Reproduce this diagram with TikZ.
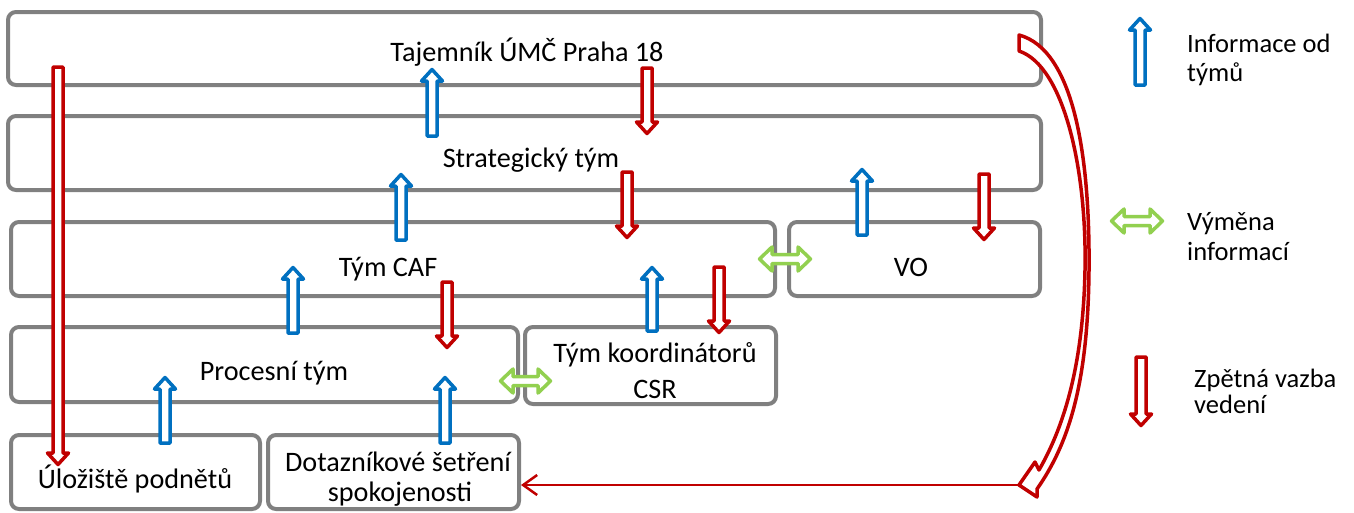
\documentclass[tikz,border=0pt]{standalone}
\usepackage{fontspec}
\setmainfont{Carlito}
\usetikzlibrary{arrows.meta}
\definecolor{bxgray}{HTML}{808080}
\definecolor{ublue}{HTML}{0070C0}
\definecolor{dred}{HTML}{C00000}
\definecolor{lgreen}{HTML}{92D050}
\newcommand{\blkup}[4]{% color, x, top, bottom
  \draw[blkarrow, draw=#1] (#2-5,#4-2) -- (#2-5,#3+14) -- (#2-10.5,#3+14) -- (#2,#3+2.5) -- (#2+10.5,#3+14) -- (#2+5,#3+14) -- (#2+5,#4-2) -- cycle;}
\newcommand{\blkdown}[4]{% color, x, top, bottom(tip)
  \draw[blkarrow, draw=#1] (#2-5,#3+2) -- (#2-5,#4-14) -- (#2-10.5,#4-14) -- (#2,#4-2.5) -- (#2+10.5,#4-14) -- (#2+5,#4-14) -- (#2+5,#3+2) -- cycle;}
\newcommand{\blkboth}[4]{% color, left, right, y
  \draw[blkarrow, draw=#1] (#2+2.5,#4) -- (#2+15,#4-12) -- (#2+15,#4-4.5) -- (#3-15,#4-4.5) -- (#3-15,#4-12) -- (#3-2.5,#4) -- (#3-15,#4+12) -- (#3-15,#4+4.5) -- (#2+15,#4+4.5) -- (#2+15,#4+12) -- cycle;}
\begin{document}
\begin{tikzpicture}[x=1pt,y=-1pt,
  box/.style={draw=bxgray, line width=4pt, rounded corners=8pt, fill=white, inner sep=0pt, rectangle},
  txt/.style={font=\fontsize{28.2}{32}\selectfont, inner sep=0pt, anchor=base},
  ltxt/.style={font=\fontsize{26.5}{30}\selectfont, inner sep=0pt, anchor=base west},
  blkarrow/.style={line width=3.5pt, fill=white, line join=round}]
\useasboundingbox (0,0) rectangle (1354,512);
% boxes
\node[box, minimum width=1033pt, minimum height=73pt] (t) at (524.5,48.5) {};
\node[box, minimum width=1033pt, minimum height=74pt] (s) at (524.5,153) {};
\node[box, minimum width=764pt, minimum height=74pt] (caf) at (393,259) {};
\node[box, minimum width=251pt, minimum height=74pt] (vo) at (914.5,259) {};
\node[box, minimum width=507pt, minimum height=75pt] (proc) at (264.5,364.5) {};
\node[box, minimum width=251pt, minimum height=77pt] (koord) at (650.5,365.5) {};
\node[box, minimum width=249pt, minimum height=74pt] (ulo) at (135.5,472) {};
\node[box, minimum width=251pt, minimum height=74pt] (dot) at (393.5,472) {};
% texts
\node[txt] (tT) at (527,61) {Tajemník ÚMČ Praha 18};
\node[txt] (tS) at (531,167) {Strategický tým};
\node[txt] (tC) at (388,276) {Tým CAF};
\node[txt] (tV) at (911,276) {VO};
\node[txt] (tP) at (274,380) {Procesní tým};
\node[txt] (tK1) at (655,362) {Tým koordinátorů};
\node[txt] (tK2) at (655,398) {CSR};
\node[txt] (tU) at (135,488) {Úložiště podnětů};
\node[txt] (tD1) at (398,471) {Dotazníkové šetření};
\node[txt] (tD2) at (400,501) {spokojenosti};
% legend texts
\node[ltxt] (l1a) at (1187,52) {Informace od};
\node[ltxt] (l1b) at (1187,81) {týmů};
\node[ltxt] (l2a) at (1187,230) {Výměna};
\node[ltxt] (l2b) at (1187,260) {informací};
\node[ltxt] (l3a) at (1194,387) {Zpětná vazba};
\node[ltxt] (l3b) at (1194,413) {vedení};
% blue up arrows
\blkup{ublue}{432}{67}{138}
\blkup{ublue}{401}{172}{242}
\blkup{ublue}{293}{265}{335}
\blkup{ublue}{165}{375}{445}
\blkup{ublue}{445}{375}{445}
\blkup{ublue}{652}{265}{333}
\blkup{ublue}{862}{167}{237}
\blkup{ublue}{1140}{16}{87}
% red down arrows
\blkdown{dred}{647}{66}{136}
\blkdown{dred}{627}{170}{240}
\blkdown{dred}{447}{280}{350}
\blkdown{dred}{719}{265}{335}
\blkdown{dred}{984}{172}{242}
\blkdown{dred}{58}{65}{467}
\blkdown{dred}{1141}{355}{428}
% green double arrows
\blkboth{lgreen}{757}{813}{259}
\blkboth{lgreen}{498}{553}{381}
\blkboth{lgreen}{1109}{1165}{221}
% curved arrow
\draw[blkarrow, draw=dred] (1019,35) .. controls (1075,50) and (1090,160) .. (1089,270)
  .. controls (1088,380) and (1070,442) .. (1037,489) -- (1037,497) -- (1019,485)
  -- (1035,462) -- (1039,470) .. controls (1062,430) and (1083,370) .. (1085,270)
  .. controls (1087,170) and (1064,66) .. (1019,51) -- cycle;
\coordinate (ctip) at (1019,485);
\draw[dred, line width=2.5pt, -{Straight Barb[length=14pt, width=20pt]}] (ctip) -- (ctip -| dot.east);
\end{tikzpicture}
\end{document}
